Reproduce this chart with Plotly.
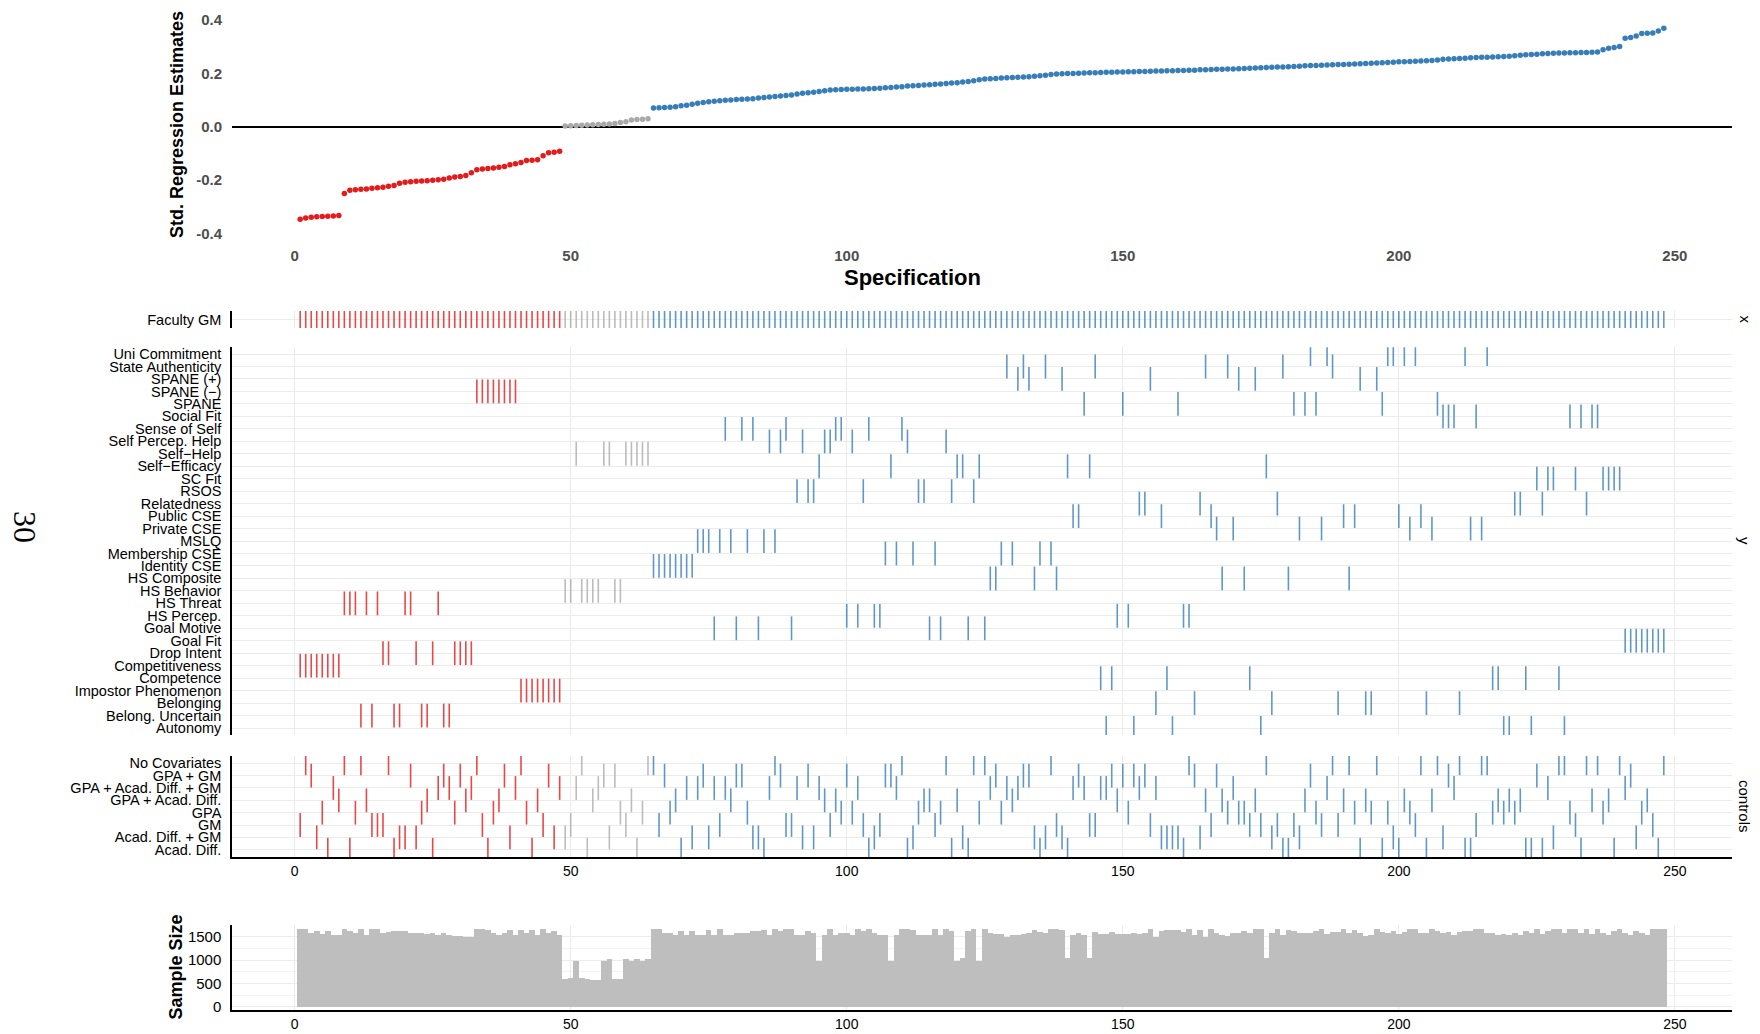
import plotly.graph_objects as go

# ---------------- data ----------------
specs = list(range(1, 249))

estimates = [
    -0.347, -0.343, -0.340, -0.338, -0.337, -0.336, -0.335, -0.333,
    -0.251, -0.239, -0.237, -0.235, -0.234, -0.231, -0.229, -0.227,
    -0.224, -0.221, -0.212, -0.209, -0.207, -0.205, -0.204, -0.203,
    -0.201, -0.199, -0.197, -0.193, -0.189, -0.187, -0.183, -0.173,
    -0.162, -0.159, -0.157, -0.155, -0.152, -0.149, -0.143, -0.139,
    -0.134, -0.127, -0.126, -0.124, -0.109, -0.098, -0.096, -0.092,
    0.002, 0.003, 0.004, 0.005, 0.006, 0.007, 0.008, 0.009,
    0.010, 0.012, 0.016, 0.018, 0.025, 0.027, 0.028, 0.030,
    0.070, 0.071, 0.072, 0.073, 0.075, 0.078, 0.080, 0.084,
    0.088, 0.091, 0.093, 0.095, 0.097, 0.099, 0.100, 0.102,
    0.103, 0.104, 0.105, 0.107, 0.109, 0.111, 0.113, 0.115,
    0.117, 0.119, 0.122, 0.125, 0.127, 0.129, 0.132, 0.135,
    0.137, 0.138, 0.139, 0.140, 0.140, 0.141, 0.141, 0.142,
    0.143, 0.144, 0.146, 0.147, 0.149, 0.150, 0.152, 0.153,
    0.154, 0.156, 0.157, 0.159, 0.160, 0.162, 0.164, 0.165,
    0.167, 0.169, 0.172, 0.176, 0.179, 0.180, 0.181, 0.182,
    0.183, 0.184, 0.185, 0.186, 0.187, 0.189, 0.191, 0.193,
    0.196, 0.197, 0.198, 0.199, 0.199, 0.200, 0.201, 0.202,
    0.202, 0.203, 0.204, 0.204, 0.205, 0.205, 0.206, 0.206,
    0.207, 0.207, 0.208, 0.209, 0.209, 0.210, 0.210, 0.211,
    0.211, 0.212, 0.212, 0.213, 0.213, 0.214, 0.215, 0.215,
    0.216, 0.216, 0.217, 0.218, 0.219, 0.220, 0.221, 0.222,
    0.223, 0.224, 0.224, 0.225, 0.226, 0.227, 0.228, 0.229,
    0.229, 0.230, 0.231, 0.232, 0.233, 0.233, 0.234, 0.235,
    0.236, 0.237, 0.238, 0.239, 0.240, 0.241, 0.242, 0.243,
    0.243, 0.244, 0.245, 0.246, 0.247, 0.248, 0.250, 0.253,
    0.254, 0.255, 0.256, 0.257, 0.258, 0.259, 0.260, 0.260,
    0.261, 0.262, 0.263, 0.264, 0.266, 0.268, 0.270, 0.271,
    0.272, 0.273, 0.274, 0.275, 0.276, 0.276, 0.277, 0.277,
    0.278, 0.278, 0.279, 0.280, 0.288, 0.294, 0.297, 0.301,
    0.332, 0.334, 0.340, 0.349, 0.350, 0.351, 0.359, 0.369,
]

sample_size = [
    1664, 1664, 1586, 1621, 1571, 1621, 1550, 1550,
    1664, 1621, 1586, 1664, 1550, 1664, 1664, 1593,
    1607, 1621, 1621, 1621, 1586, 1586, 1586, 1557,
    1586, 1550, 1586, 1550, 1521, 1521, 1500, 1500,
    1664, 1664, 1643, 1586, 1550, 1586, 1650, 1550,
    1650, 1586, 1650, 1550, 1664, 1586, 1629, 1550,
    600, 629, 979, 629, 600, 579, 579, 986,
    1036, 600, 600, 1036, 986, 1036, 986, 1036,
    1664, 1664, 1586, 1586, 1550, 1621, 1550, 1621,
    1550, 1550, 1643, 1550, 1664, 1550, 1550, 1586,
    1586, 1586, 1621, 1621, 1643, 1550, 1664, 1621,
    1664, 1664, 1550, 1550, 1621, 1586, 993, 1550,
    1664, 1550, 1586, 1586, 1550, 1664, 1621, 1664,
    1586, 1550, 1550, 993, 1550, 1664, 1664, 1650,
    1550, 1550, 1550, 1664, 1550, 1664, 1621, 993,
    1043, 1621, 1664, 993, 1664, 1586, 1571, 1571,
    1500, 1536, 1536, 1571, 1586, 1643, 1607, 1586,
    1664, 1664, 1643, 1043, 1550, 1586, 1550, 1043,
    1607, 1571, 1571, 1607, 1571, 1571, 1571, 1586,
    1571, 1593, 1664, 1500, 1629, 1650, 1650, 1650,
    1607, 1664, 1536, 1650, 1500, 1664, 1586, 1550,
    1521, 1586, 1586, 1621, 1586, 1664, 1664, 1043,
    1586, 1664, 1550, 1650, 1621, 1586, 1586, 1586,
    1621, 1664, 1571, 1607, 1607, 1664, 1586, 1650,
    1586, 1521, 1536, 1664, 1607, 1586, 1621, 1571,
    1607, 1664, 1664, 1586, 1586, 1664, 1621, 1586,
    1607, 1550, 1607, 1636, 1636, 1664, 1664, 1586,
    1586, 1550, 1571, 1550, 1586, 1550, 1636, 1586,
    1664, 1571, 1636, 1664, 1664, 1586, 1664, 1664,
    1586, 1664, 1571, 1664, 1586, 1550, 1621, 1664,
    1586, 1550, 1621, 1586, 1550, 1664, 1664, 1664,
]

x_label = "Faculty GM"

y_labels = [
    "Uni Commitment", "State Authenticity", "SPANE (+)", "SPANE (\u2212)", "SPANE",
    "Social Fit", "Sense of Self", "Self Percep. Help", "Self\u2212Help", "Self\u2212Efficacy",
    "SC Fit", "RSOS", "Relatedness", "Public CSE", "Private CSE", "MSLQ",
    "Membership CSE", "Identity CSE", "HS Composite", "HS Behavior", "HS Threat",
    "HS Percep.", "Goal Motive", "Goal Fit", "Drop Intent", "Competitiveness",
    "Competence", "Impostor Phenomenon", "Belonging", "Belong. Uncertain", "Autonomy",
]

y_spec_positions = [
    [184, 187, 198, 199, 201, 203, 212, 216],   # Uni Commitment
    [129, 132, 136, 145, 165, 169, 179, 188],   # State Authenticity
    [131, 133, 139, 155, 171, 174, 193, 196],   # SPANE (+)
    [33, 34, 35, 36, 37, 38, 39, 40],           # SPANE (-)
    [143, 150, 160, 181, 183, 185, 197, 207],   # SPANE
    [208, 209, 210, 214, 231, 233, 235, 236],   # Social Fit
    [78, 81, 83, 89, 98, 99, 104, 110],         # Sense of Self
    [86, 88, 92, 96, 97, 101, 111, 118],        # Self Percep. Help
    [51, 56, 57, 60, 61, 62, 63, 64],           # Self-Help
    [95, 108, 120, 121, 124, 140, 144, 176],    # Self-Efficacy
    [225, 227, 228, 232, 237, 238, 239, 240],   # SC Fit
    [91, 93, 94, 103, 113, 114, 119, 123],      # RSOS
    [153, 154, 164, 178, 221, 222, 226, 234],   # Relatedness
    [141, 142, 157, 166, 190, 192, 200, 204],   # Public CSE
    [167, 170, 182, 186, 202, 206, 213, 215],   # Private CSE
    [73, 74, 75, 77, 79, 82, 85, 87],           # MSLQ
    [107, 109, 112, 116, 128, 130, 135, 137],   # Membership CSE
    [65, 66, 67, 68, 69, 70, 71, 72],           # Identity CSE
    [126, 127, 134, 138, 168, 172, 180, 191],   # HS Composite
    [49, 50, 52, 53, 54, 55, 58, 59],           # HS Behavior
    [9, 10, 11, 13, 15, 20, 21, 26],            # HS Threat
    [100, 102, 105, 106, 149, 151, 161, 162],   # HS Percep.
    [76, 80, 84, 90, 115, 117, 122, 125],       # Goal Motive
    [241, 242, 243, 244, 245, 246, 247, 248],   # Goal Fit
    [16, 17, 22, 25, 29, 30, 31, 32],           # Drop Intent
    [1, 2, 3, 4, 5, 6, 7, 8],                   # Competitiveness
    [146, 148, 158, 173, 217, 218, 223, 229],   # Competence
    [41, 42, 43, 44, 45, 46, 47, 48],           # Impostor Phenomenon
    [156, 163, 177, 189, 194, 195, 205, 211],   # Belonging
    [12, 14, 18, 19, 23, 24, 27, 28],           # Belong. Uncertain
    [147, 152, 159, 175, 219, 220, 224, 230],   # Autonomy
]

control_labels = [
    "No Covariates", "GPA + GM", "GPA + Acad. Diff. + GM", "GPA + Acad. Diff.",
    "GPA", "GM", "Acad. Diff. + GM", "Acad. Diff.",
]

control_spec_positions = [
    [2, 9, 12, 17, 33, 41, 52, 64, 65, 87, 110, 118, 123, 125, 137, 162, 176, 188, 191,
     196, 204, 207, 211, 215, 216, 229, 230, 234, 236, 240, 248],
    [3, 21, 27, 30, 38, 46, 56, 58, 67, 74, 80, 81, 88, 93, 100, 107, 108, 127, 132, 133,
     142, 148, 150, 152, 154, 163, 167, 184, 209, 225, 242],
    [7, 26, 28, 32, 40, 48, 51, 55, 71, 73, 76, 78, 86, 91, 95, 102, 109, 126, 129, 131,
     141, 143, 146, 147, 153, 156, 170, 187, 210, 227, 241],
    [8, 13, 24, 31, 37, 44, 54, 61, 69, 79, 96, 98, 114, 115, 120, 130, 149, 165, 168,
     174, 183, 190, 194, 201, 206, 218, 220, 222, 235, 238, 245],
    [5, 11, 23, 29, 36, 42, 59, 63, 68, 82, 99, 101, 113, 117, 124, 128, 151, 169, 171,
     172, 185, 192, 195, 198, 202, 217, 219, 221, 231, 237, 244],
    [1, 14, 15, 16, 34, 45, 50, 60, 66, 77, 89, 90, 97, 103, 106, 116, 138, 144, 145,
     155, 166, 173, 175, 178, 181, 186, 189, 203, 214, 232, 246],
    [4, 19, 20, 22, 39, 47, 49, 57, 72, 75, 83, 84, 92, 94, 105, 112, 121, 134, 136, 139,
     157, 158, 159, 160, 164, 177, 182, 199, 208, 228, 243],
    [6, 10, 18, 25, 35, 43, 53, 62, 70, 85, 104, 111, 119, 122, 135, 140, 161, 179, 180,
     193, 197, 200, 205, 212, 213, 223, 224, 226, 233, 239, 247],
]

x_ticks = [0, 50, 100, 150, 200, 250]
est_ticks = [-0.4, -0.2, 0.0, 0.2, 0.4]
est_tick_text = ["-0.4", "-0.2", "0.0", "0.2", "0.4"]
n_ticks = [0, 500, 1000, 1500]

assert len(estimates) == 248 and len(sample_size) == 248

# ---------------- styling helpers ----------------
OFF = 8                      # page body margin in the browser
SCREEN_W, SCREEN_H = 1760, 1034
W, H = SCREEN_W - OFF, SCREEN_H - OFF
PLOT_L, PLOT_R = 232, 1732   # panel edges in screen pixels
ML = PLOT_L - OFF
MR = W - (PLOT_R - OFF)
FONT = "Liberation Sans, Arial, Helvetica, sans-serif"
GRID = "#EBEBEB"

DOT = {"neg": "#E41A1C", "ns": "#A9A9A9", "pos": "#377EB8"}
TICK = {"neg": "rgba(228,26,28,0.80)", "ns": "rgba(160,160,160,0.70)",
        "pos": "rgba(55,126,184,0.80)"}


def group(e):
    if e < 0:
        return "neg"
    if e < 0.05:
        return "ns"
    return "pos"


spec_group = {s: group(e) for s, e in zip(specs, estimates)}


def dom(top_px, bottom_px):
    """screen-pixel top/bottom -> paper domain"""
    return [1 - (bottom_px - OFF) / H, 1 - (top_px - OFF) / H]


def px_x(px):
    return (px - PLOT_L) / (PLOT_R - PLOT_L)


def px_y(py):
    return 1 - (py - OFF) / H


X_RANGE = [-11.35, 260.35]

fig = go.Figure()

# Top: estimates
fig.add_trace(go.Scatter(
    x=specs, y=estimates, mode="markers",
    marker=dict(size=5.5, color=[DOT[spec_group[s]] for s in specs], line=dict(width=0)),
    xaxis="x", yaxis="y", hoverinfo="x+y",
))

# Faculty GM row
fig.add_trace(go.Scatter(
    x=specs, y=[0] * len(specs), mode="markers",
    marker=dict(symbol="line-ns", size=15,
                line=dict(width=1.6, color=[TICK[spec_group[s]] for s in specs])),
    xaxis="x2", yaxis="y2", hoverinfo="x",
))

# Outcomes (row 0 at the top)
n_y = len(y_labels)
yx, yy = [], []
for r, pos in enumerate(y_spec_positions):
    for p in pos:
        yx.append(p)
        yy.append(n_y - 1 - r)
fig.add_trace(go.Scatter(
    x=yx, y=yy, mode="markers",
    marker=dict(symbol="line-ns", size=17,
                line=dict(width=1.6, color=[TICK[spec_group[s]] for s in yx])),
    xaxis="x3", yaxis="y3", hoverinfo="x",
))

# Controls
n_c = len(control_labels)
cx, cy = [], []
for r, pos in enumerate(control_spec_positions):
    for p in pos:
        cx.append(p)
        cy.append(n_c - 1 - r)
fig.add_trace(go.Scatter(
    x=cx, y=cy, mode="markers",
    marker=dict(symbol="line-ns", size=17,
                line=dict(width=1.6, color=[TICK[spec_group[s]] for s in cx])),
    xaxis="x4", yaxis="y4", hoverinfo="x",
))

# Sample size
fig.add_trace(go.Bar(
    x=specs, y=sample_size, marker=dict(color="#BEBEBE", line=dict(width=0)),
    xaxis="x5", yaxis="y5", hoverinfo="x+y",
))

lab_font = dict(family=FONT, size=14.5, color="black")
xtick_font = dict(family=FONT, size=14, color="black")

common_x = dict(range=X_RANGE, tickvals=x_ticks, zeroline=False, ticks="",
                domain=[0, 1], showline=False, automargin=False)
common_y = dict(automargin=False, ticks="", ticklabelstandoff=6, zeroline=False)

layout = dict(
    width=W, height=H,
    margin=dict(l=ML, r=MR, t=0, b=0, pad=0, autoexpand=False),
    paper_bgcolor="white", plot_bgcolor="white",
    showlegend=False, bargap=0,
    font=dict(family=FONT),
    xaxis=dict(common_x, anchor="y", showgrid=False, showticklabels=True,
               tickfont=dict(family=FONT, size=15, color="#4D4D4D", weight="bold"),
               ticklabelstandoff=8),
    yaxis=dict(common_y, domain=dom(16, 237.3), range=[-0.415, 0.415], anchor="x",
               tickvals=est_ticks, ticktext=est_tick_text, showgrid=False,
               zeroline=True, zerolinecolor="black", zerolinewidth=2,
               ticklabelstandoff=9,
               tickfont=dict(family=FONT, size=15, color="#4D4D4D", weight="bold")),
    xaxis2=dict(common_x, anchor="y2", showgrid=True, gridcolor=GRID, gridwidth=1.3,
                showticklabels=False),
    yaxis2=dict(common_y, domain=dom(311, 328), range=[-0.6, 0.6], anchor="x2",
                tickvals=[0], ticktext=[x_label],
                showgrid=True, gridcolor=GRID, gridwidth=1.3,
                showline=True, linecolor="black", linewidth=1.5, tickfont=lab_font),
    xaxis3=dict(common_x, anchor="y3", showgrid=True, gridcolor=GRID, gridwidth=1.3,
                showticklabels=False),
    yaxis3=dict(common_y, domain=dom(347.3, 735), range=[-0.56, n_y - 1 + 0.54],
                anchor="x3", tickvals=list(range(n_y)),
                ticktext=list(reversed(y_labels)),
                showgrid=True, gridcolor=GRID, gridwidth=1.3,
                showline=True, linecolor="black", linewidth=1.5, tickfont=lab_font),
    xaxis4=dict(common_x, anchor="y4", showgrid=True, gridcolor=GRID, gridwidth=1.3,
                showticklabels=True, tickfont=xtick_font,
                showline=True, linecolor="black", linewidth=1.8),
    yaxis4=dict(common_y, domain=dom(755.9, 857.1), range=[-0.6, n_c - 1 + 0.6],
                anchor="x4", tickvals=list(range(n_c)),
                ticktext=list(reversed(control_labels)),
                showgrid=True, gridcolor=GRID, gridwidth=1.3,
                showline=True, linecolor="black", linewidth=1.5, tickfont=lab_font),
    xaxis5=dict(common_x, anchor="y5", showgrid=True, gridcolor=GRID, gridwidth=1.3,
                showticklabels=True, tickfont=xtick_font,
                showline=True, linecolor="black", linewidth=1.8),
    yaxis5=dict(common_y, domain=dom(924.8, 1010.4), range=[-80, 1755], anchor="x5",
                tickvals=n_ticks, showgrid=True, gridcolor=GRID, gridwidth=1.3,
                minor=dict(showgrid=True, dtick=250, tick0=0, gridcolor="#F3F3F3",
                           gridwidth=1),
                showline=True, linecolor="black", linewidth=1.5,
                tickfont=dict(family=FONT, size=15, color="black")),
)
fig.update_layout(**layout)

annotations = [
    dict(text="Specification", x=px_x(912), y=px_y(278), xref="paper", yref="paper",
         showarrow=False, xanchor="center", yanchor="middle",
         font=dict(family=FONT, size=22, color="black", weight="bold")),
    dict(text="Std. Regression Estimates", x=px_x(177), y=px_y(125), xref="paper",
         yref="paper", showarrow=False, textangle=-90, xanchor="center", yanchor="middle",
         font=dict(family=FONT, size=18, color="black", weight="bold")),
    dict(text="Sample Size", x=px_x(176), y=px_y(967.6), xref="paper", yref="paper",
         showarrow=False, textangle=-90, xanchor="center", yanchor="middle",
         font=dict(family=FONT, size=18, color="black", weight="bold")),
    dict(text="x", x=px_x(1745), y=px_y(319.5), xref="paper", yref="paper",
         showarrow=False, textangle=90, xanchor="center", yanchor="middle",
         font=dict(family=FONT, size=15, color="black")),
    dict(text="y", x=px_x(1745), y=px_y(541), xref="paper", yref="paper",
         showarrow=False, textangle=90, xanchor="center", yanchor="middle",
         font=dict(family=FONT, size=15, color="black")),
    dict(text="controls", x=px_x(1745), y=px_y(806), xref="paper", yref="paper",
         showarrow=False, textangle=90, xanchor="center", yanchor="middle",
         font=dict(family=FONT, size=15, color="black")),
    dict(text="30", x=px_x(25), y=px_y(527), xref="paper", yref="paper",
         showarrow=False, textangle=90, xanchor="center", yanchor="middle",
         font=dict(family="Liberation Serif, Times New Roman, serif", size=32,
                   color="black")),
]
fig.update_layout(annotations=annotations)

fig.write_html("out.html")
